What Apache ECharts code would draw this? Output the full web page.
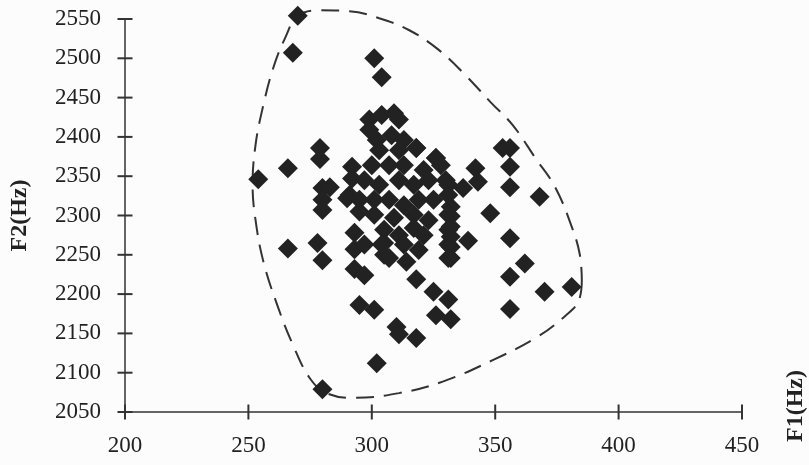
<!DOCTYPE html>
<html><head><meta charset="utf-8">
<script src="https://cdn.jsdelivr.net/npm/echarts@6/dist/echarts.min.js"></script>
<style>html,body{margin:0;padding:0;background:#fcfcfc}#c{width:809px;height:465px}</style>
</head><body><div id="c"></div>
<script>
// Axis ticks
const xTicks = [200, 250, 300, 350, 400, 450];
const yTicks = [2050, 2100, 2150, 2200, 2250, 2300, 2350, 2400, 2450, 2500, 2550];
// Scatter values: F1 (Hz)
const f1 = [270,268,301,304,254,266,279,279,280,283,280,280,292,292,290,266,278,280,293,293,293,297,295,301,305,305,310,311,318,318,302,280,325,331,326,332,318,326,330,342,343,337,353,356,356,356,368,348,332,332,332,332,332,332,339,356,362,356,370,381,356,
  299,304,309,311, 299,302,308,313, 303,311,318,326, 300,307,313,321,328, 297,303,311,317,323,331, 291,295,301,307,313,319,325,331, 295,301,309,317,323,331, 305,311,317,321,331, 297,304,313,319,331, 307,314,331];
// Scatter values: F2 (Hz)
const f2 = [2554,2507,2500,2476,2346,2360,2386,2372,2335,2336,2320,2307,2362,2347,2322,2258,2265,2243,2278,2257,2232,2224,2186,2180,2265,2250,2158,2149,2144,2219,2112,2079,2203,2193,2173,2168,2386,2373,2345,2360,2343,2335,2386,2386,2362,2336,2324,2303,2311,2299,2286,2273,2260,2246,2268,2271,2239,2222,2203,2209,2181,
  2422,2428,2430,2422, 2409,2396,2402,2396, 2383,2383,2386,2373, 2364,2364,2364,2358,2364, 2345,2339,2345,2339,2345,2339, 2326,2320,2320,2320,2313,2320,2320,2326, 2305,2301,2297,2301,2294,2301, 2282,2275,2284,2275,2282, 2263,2263,2263,2256,2263, 2246,2241,2246];
// Dashed envelope (closed loop)
const envX = [385.1,383.9,377.9,366.3,349.0,329.0,311.0,292.9,281.7,274.9,268.1,261.7,256.1,252.9,251.7,252.9,256.1,260.1,264.9,270.1,278.9,290.9,303.0,315.0,327.0,337.8,348.2,357.1,366.3,374.3,381.1,384.3,385.1];
const envY = [2218,2192,2171,2144,2116,2089,2074,2068,2074,2093,2135,2186,2241,2294,2339,2390,2441,2488,2526,2554,2561,2560,2551,2536,2511,2479,2444,2415,2373,2336,2285,2250,2218];

const pts = f1.map((v, i) => [v, f2[i]]);
const env = envX.map((v, i) => [v, envY[i]]);
const font = 'Liberation Serif';
const labelStyle = {fontFamily: font, fontSize: 23, color: '#222', formatter: v => String(v)};
const xTickPts = xTicks.map(v => [v, yTicks[0]]);
const yTickPts = yTicks.map(v => [xTicks[0], v]);
const chart = echarts.init(document.getElementById('c'));
chart.setOption({
  backgroundColor: '#fcfcfc',
  animation: false,
  grid: {left: 118, right: 67, top: 19, bottom: 53},
  xAxis: {
    type: 'value', min: xTicks[0], max: xTicks[xTicks.length - 1], interval: 50,
    axisLine: {show: true, onZero: false, lineStyle: {color: '#333', width: 1.5}},
    axisTick: {show: false},
    axisLabel: Object.assign({margin: 22}, labelStyle),
    splitLine: {show: false}
  },
  yAxis: {
    type: 'value', min: yTicks[0], max: yTicks[yTicks.length - 1], interval: 50,
    name: 'F2(Hz)', nameLocation: 'middle', nameRotate: 90, nameGap: 93,
    nameTextStyle: {fontFamily: font, fontSize: 24, fontWeight: 'bold', color: '#222'},
    axisLine: {show: true, onZero: false, lineStyle: {color: '#333', width: 1.5}},
    axisTick: {show: false},
    axisLabel: Object.assign({margin: 24}, labelStyle),
    splitLine: {show: false}
  },
  graphic: [{
    type: 'text', x: 796, y: 406, rotation: Math.PI / 2,
    style: {text: 'F1(Hz)', font: 'bold 24px "Liberation Serif"', fill: '#222', align: 'center', verticalAlign: 'middle'}
  }],
  series: [{
    type: 'line', data: env, smooth: 0.4, symbol: 'none', z: 1, clip: false,
    lineStyle: {color: '#333', width: 2, type: [18, 10]}
  }, {
    type: 'scatter', data: xTickPts, symbol: 'rect', symbolSize: [2, 15], z: 5, clip: false, silent: true,
    itemStyle: {color: '#333', opacity: 1}
  }, {
    type: 'scatter', data: yTickPts, symbol: 'rect', symbolSize: [15, 2], z: 5, clip: false, silent: true,
    itemStyle: {color: '#333', opacity: 1}
  }, {
    type: 'scatter', data: pts, symbol: 'diamond', symbolSize: 20, z: 2, clip: false,
    itemStyle: {color: '#222', opacity: 1}
  }]
});
</script></body></html>
